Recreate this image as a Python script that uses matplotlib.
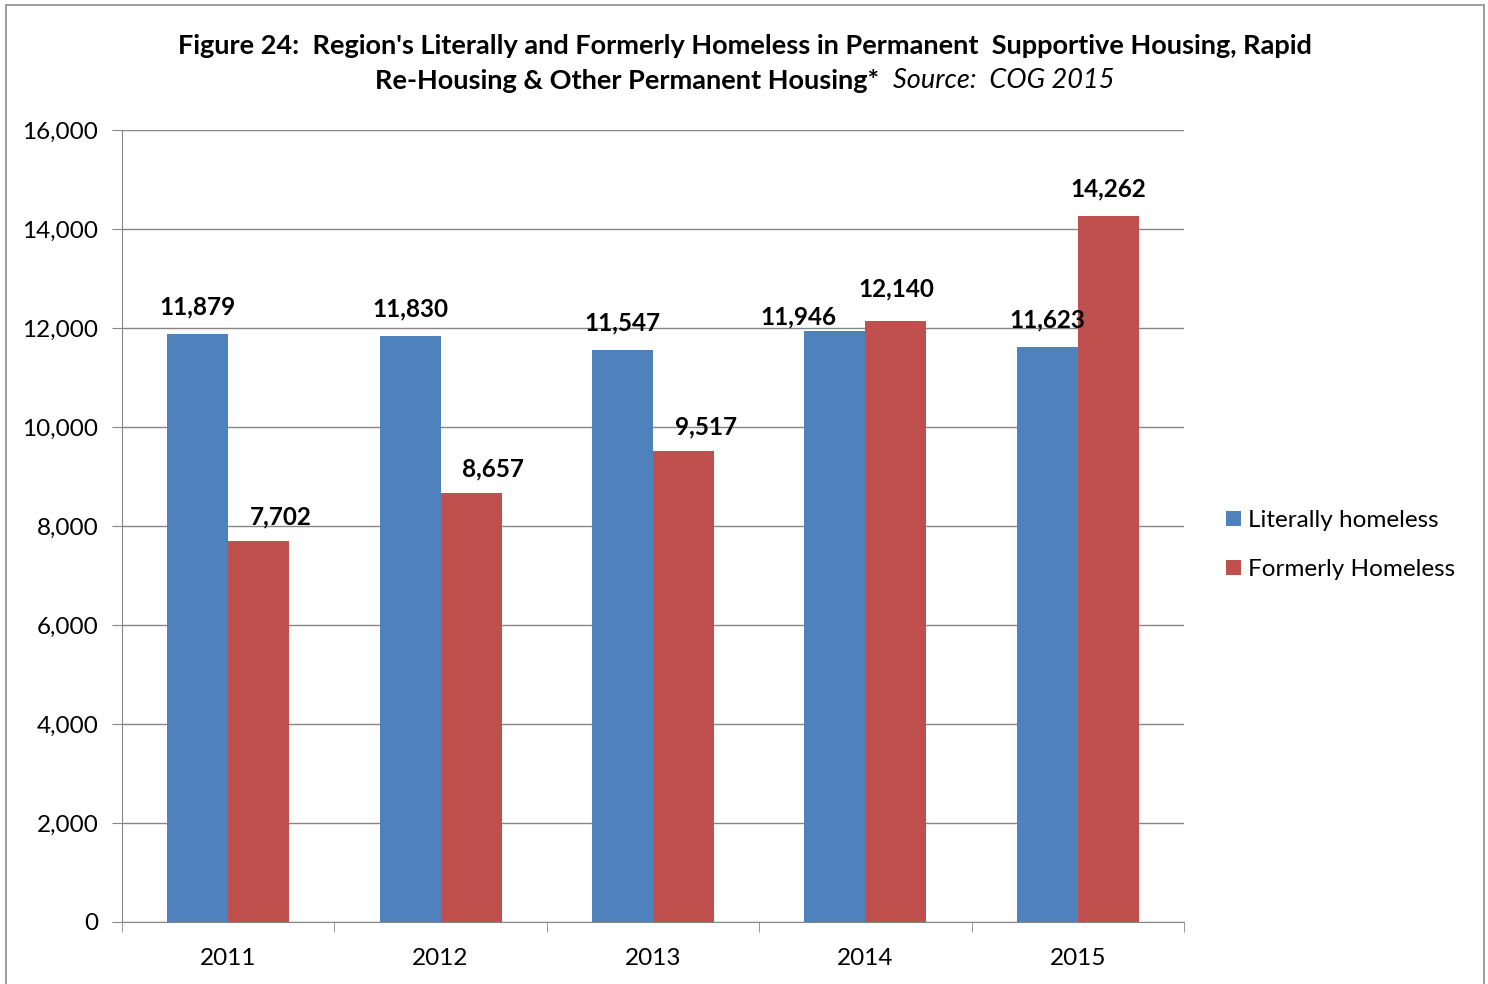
import matplotlib
matplotlib.use('Agg')
import numpy as np
import matplotlib.pyplot as plt
from matplotlib.patches import Rectangle

plt.rcParams['font.family'] = ['Lato', 'DejaVu Sans']

# data
years = ['2011', '2012', '2013', '2014', '2015']
literally = [11879, 11830, 11547, 11946, 11623]
formerly = [7702, 8657, 9517, 12140, 14262]
series_names = ['Literally homeless', 'Formerly Homeless']

blue = '#4F81BD'
red = '#C0504D'
grid_col = '#868686'
fs = 17.5

fig = plt.figure(figsize=(14.88, 9.84), dpi=100)
ax = fig.add_axes([122/1488, 1-922/984, (1184-122)/1488, (922-130)/984])

x = np.arange(len(years))
w = 0.287
ax.bar(x - w/2, literally, w, color=blue, label=series_names[0], zorder=3)
ax.bar(x + w/2, formerly, w, color=red, label=series_names[1], zorder=3)

# data labels, nudged the way Excel placed them in the original
for i, v in enumerate(literally):
    dx, dy = 0, 19.5
    if i == 3:
        dx, dy = -26, 10
    ax.annotate(f'{v:,}', (x[i] - w/2, v), xytext=(dx, dy), textcoords='offset points',
                ha='center', va='center', fontsize=fs, fontweight='bold')
for i, v in enumerate(formerly):
    dx, dy = 16, 17.5
    if i == 3:
        dx, dy = 0, 23
    elif i == 4:
        dx, dy = 0, 19.5
    ax.annotate(f'{v:,}', (x[i] + w/2, v), xytext=(dx, dy), textcoords='offset points',
                ha='center', va='center', fontsize=fs, fontweight='bold')

ax.set_xlim(-0.5, len(years) - 0.5)
ax.set_ylim(0, 16000)
ax.set_yticks(np.arange(0, 16001, 2000))
ax.yaxis.set_major_formatter(matplotlib.ticker.FuncFormatter(lambda v, p: f'{int(v):,}'))
ax.set_xticks(x)
ax.set_xticklabels(years)
ax.set_xticks(np.arange(-0.5, len(years), 1), minor=True)
ax.tick_params(axis='x', which='major', length=0, pad=18.5, labelsize=fs)
ax.tick_params(axis='x', which='minor', length=7, color=grid_col, direction='out')
ax.tick_params(axis='y', length=7, color=grid_col, direction='out', pad=10, labelsize=fs)

ax.grid(axis='y', color=grid_col, linewidth=1, zorder=0)
for s in ['top', 'right']:
    ax.spines[s].set_visible(False)
for s in ['left', 'bottom']:
    ax.spines[s].set_color(grid_col)

tfs = 19.5
fig.text(745/1488, 1-46/984, "Figure 24:  Region's Literally and Formerly Homeless in Permanent  Supportive Housing, Rapid",
         ha='center', va='center', fontsize=tfs, fontweight='bold')
fig.text(375/1488, 1-81/984, "Re-Housing & Other Permanent Housing*", ha='left', va='center',
         fontsize=tfs, fontweight='bold')
fig.text(893/1488, 1-81/984, "Source:  COG 2015", ha='left', va='center', fontsize=tfs, style='italic')

ax.legend(loc='center left', bbox_to_anchor=(1226/1488, 1-545/984), bbox_transform=fig.transFigure,
          frameon=False, fontsize=fs, handlelength=0.62, handleheight=0.62, handletextpad=0.3,
          labelspacing=1.15, borderaxespad=0, borderpad=0)

fig.patches.append(Rectangle((6/1488, -0.01), (1484-6)/1488, 1-5/984 + 0.01, transform=fig.transFigure,
                             fill=False, edgecolor='#8c8c8c', linewidth=1.2))

fig.savefig('out.png', dpi=100)
